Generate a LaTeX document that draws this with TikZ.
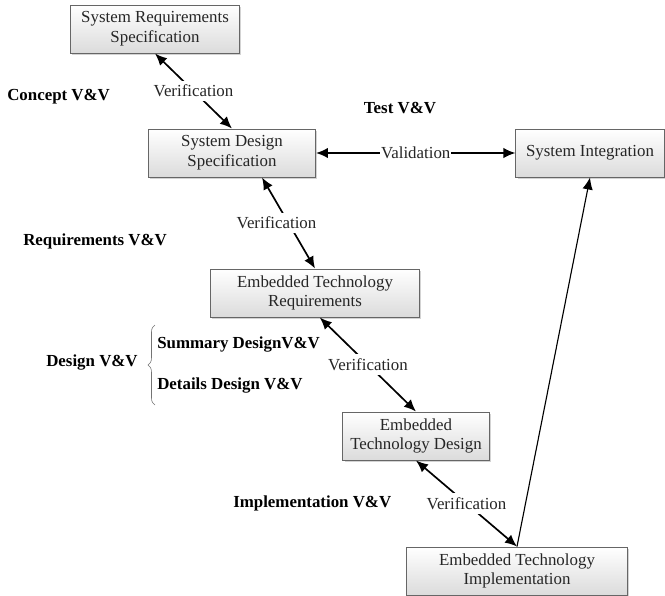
\documentclass[tikz,border=0pt]{standalone}
\usepackage{fontspec}
\setmainfont{Liberation Serif}
\usetikzlibrary{arrows.meta,shadows,decorations.pathreplacing}

\tikzset{
  caixa/.style={draw=black!60, line width=0.7pt, top color=white, bottom color=black!14,
    drop shadow={shadow xshift=1.2pt,shadow yshift=-1.2pt,opacity=0.35},
    align=center, minimum height=1.2cm, inner sep=2pt, text=black!85,
    font=\fontsize{12}{14}\selectfont},
  rotulo/.style={fill=white, inner sep=3pt, text=black!85, font=\fontsize{12}{14}\selectfont},
  fase/.style={anchor=west, inner xsep=0pt, font=\bfseries\fontsize{12}{14}\selectfont},
  seta/.style={line width=1.2pt, {Latex[length=3mm,width=2.6mm]}-{Latex[length=3mm,width=2.6mm]}},
}

\begin{document}
\begin{tikzpicture}[x=0.025cm,y=-0.025cm]

\useasboundingbox (0,0) rectangle (665,595);

% caixas
\node[caixa, minimum width=4.22cm] (srs) at (155,29) {System Requirements\\Specification};
\node[caixa, minimum width=4.17cm] (sds) at (232,153) {System Design\\Specification};
\node[caixa, minimum width=3.7cm] (si) at (590,153) {System Integration};
\node[caixa, minimum width=5.22cm] (etr) at (315,293) {Embedded Technology\\Requirements};
\node[caixa, minimum width=3.65cm] (etd) at (416,436) {Embedded\\Technology Design};
\node[caixa, minimum width=5.5cm] (eti) at (517,571) {Embedded Technology\\Implementation};

% fases
\node[fase] (concept) at (7,97) {Concept V\&V};
\node[fase, anchor=center] (test) at (400,108) {Test V\&V};
\node[fase] (req) at (23,241) {Requirements V\&V};
\node[fase] (design) at (46,362) {Design V\&V};
\node[fase] (summary) at (157,344) {Summary DesignV\&V};
\node[fase] (details) at (157,385) {Details Design V\&V};
\node[fase] (impl) at (233,503) {Implementation V\&V};

\draw[decorate, decoration={brace, amplitude=5pt}, black!55, thin] (155,405) -- (155,325);

% setas
\draw[seta] (srs.south) -- (sds.north) node[midway, rotulo] {Verification};
\draw[seta] ([xshift=0.75cm]sds.south) -- (etr.north) node[midway, rotulo, xshift=-0.3cm] {Verification};
\draw[seta] ([xshift=0.12cm]etr.south) -- (etd.north) node[midway, rotulo] {Verification};
\draw[seta] (etd.south) -- (eti.north) node[midway, rotulo] {Verification};
\draw[seta] (sds.east) -- (si.west) node[midway, rotulo, inner xsep=0.5pt, inner ysep=2pt] {Validation};
\draw[line width=0.8pt, -{Latex[length=3mm,width=2.6mm]}] (eti.north) -- (si.south);

\end{tikzpicture}
\end{document}
